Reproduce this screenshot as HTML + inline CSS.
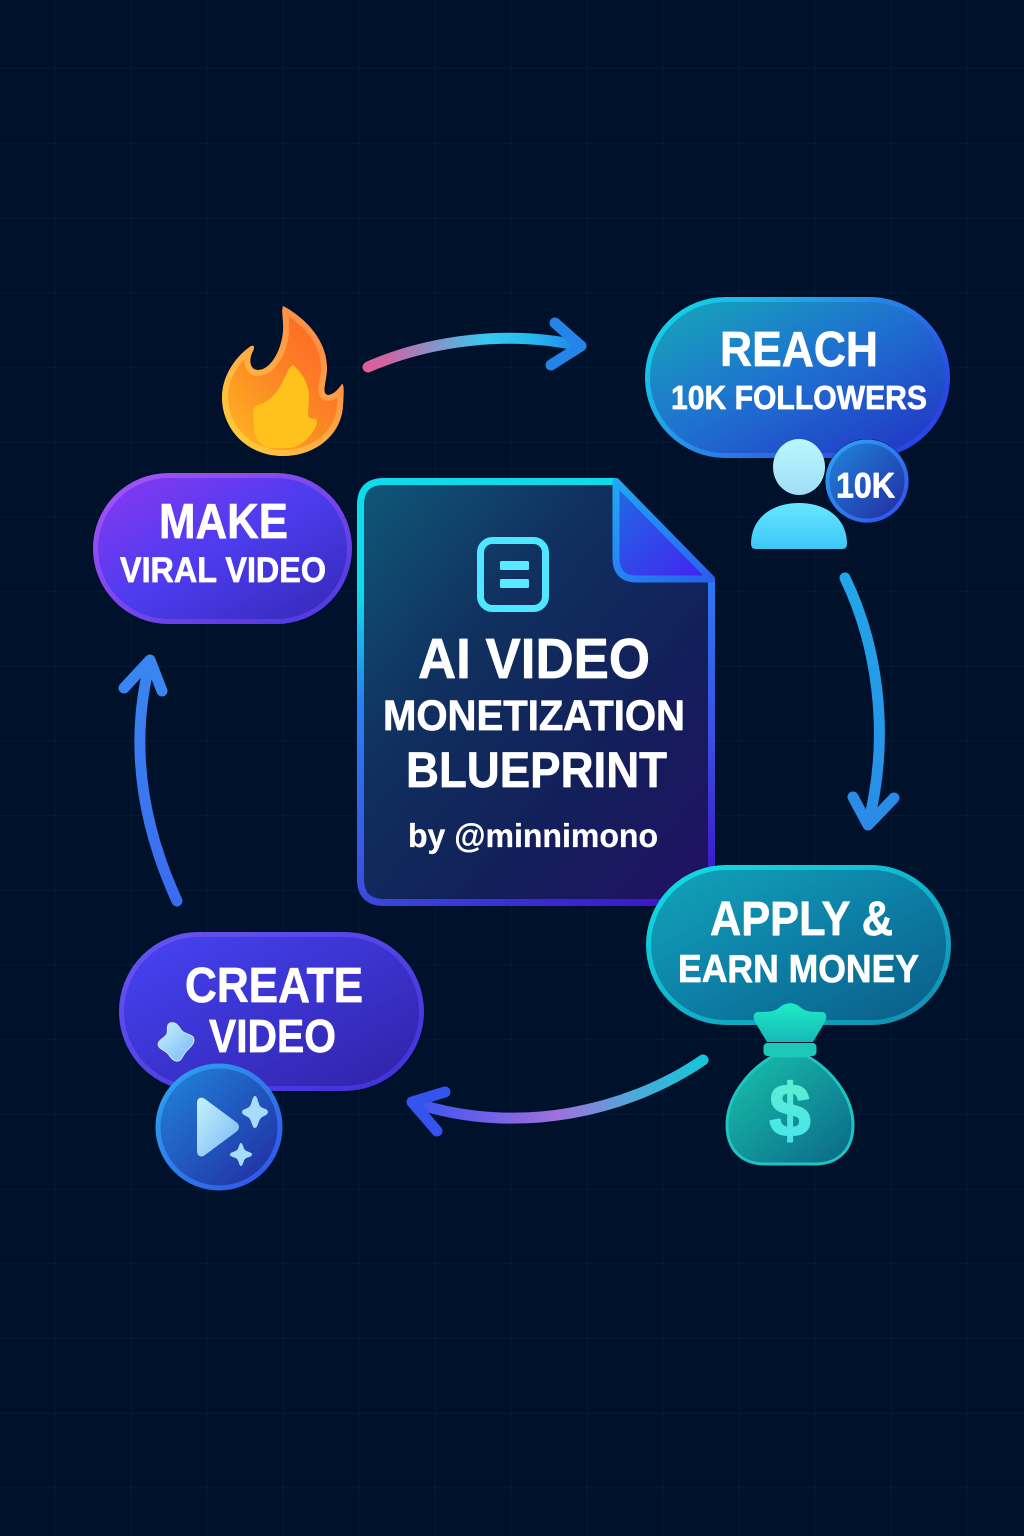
<!DOCTYPE html>
<html lang="en">
<head>
<meta charset="utf-8">
<title>AI Video Monetization Blueprint</title>
<style>
html,body{margin:0;padding:0;background:#00112b;width:1024px;height:1536px;overflow:hidden}
svg{display:block}
text{font-family:"Liberation Sans",sans-serif;font-weight:700;fill:#fff;stroke:#fff;stroke-width:.7;stroke-linejoin:round}
</style>
</head>
<body>
<svg xmlns="http://www.w3.org/2000/svg" width="1024" height="1536" viewBox="0 0 1024 1536">
<defs>
<pattern id="grid" x="-20.5" y="-5.7" width="76" height="74.7" patternUnits="userSpaceOnUse">
<path d="M76 0V74.7M0 74.7H76" fill="none" stroke="#031d3b" stroke-width="1.4"/>
</pattern>
<linearGradient id="rF" x1="0" y1="0" x2="1" y2="1"><stop offset="0" stop-color="#15aab8"/><stop offset=".5" stop-color="#1f6ed0"/><stop offset="1" stop-color="#2230c4"/></linearGradient>
<linearGradient id="rS" x1="0" y1="0" x2="1" y2=".6"><stop offset="0" stop-color="#0fe0e6"/><stop offset=".5" stop-color="#2790ea"/><stop offset="1" stop-color="#2a45e6"/></linearGradient>
<linearGradient id="mF" x1="0" y1="0" x2="1" y2="1"><stop offset="0" stop-color="#8a38f2"/><stop offset=".5" stop-color="#4c3cee"/><stop offset="1" stop-color="#3328b4"/></linearGradient>
<linearGradient id="mS" x1="0" y1="0" x2="1" y2="1"><stop offset="0" stop-color="#a855f5"/><stop offset="1" stop-color="#4a38e0"/></linearGradient>
<linearGradient id="cF" x1="0" y1="0" x2="1" y2="1"><stop offset="0" stop-color="#4644f6"/><stop offset="1" stop-color="#2f22a6"/></linearGradient>
<linearGradient id="cS" x1="0" y1="0" x2="1" y2="1"><stop offset="0" stop-color="#6a54f2"/><stop offset="1" stop-color="#4030d8"/></linearGradient>
<linearGradient id="aF" x1="0" y1="0" x2="1" y2="1"><stop offset="0" stop-color="#12a6ba"/><stop offset=".5" stop-color="#0d7fa6"/><stop offset="1" stop-color="#0a5c86"/></linearGradient>
<linearGradient id="aS" x1="0" y1="0" x2="1" y2="1"><stop offset="0" stop-color="#0fe0e6"/><stop offset="1" stop-color="#118bb0"/></linearGradient>
<linearGradient id="dF" x1="0" y1="0" x2="1" y2="1"><stop offset="0" stop-color="#0f5878"/><stop offset=".35" stop-color="#10305f"/><stop offset=".65" stop-color="#12205a"/><stop offset="1" stop-color="#221064"/></linearGradient>
<linearGradient id="dS" gradientUnits="userSpaceOnUse" x1="420" y1="430" x2="640" y2="950"><stop offset=".22" stop-color="#0fdcea"/><stop offset=".4" stop-color="#2a80f2"/><stop offset=".7" stop-color="#3a50e0"/><stop offset=".95" stop-color="#3a14c8"/></linearGradient>
<linearGradient id="fold" x1="0" y1="0" x2="1" y2="1"><stop offset="0" stop-color="#1f6ce4"/><stop offset="1" stop-color="#4420f0"/></linearGradient>
<linearGradient id="foldS" x1="0" y1="0" x2="1" y2="1"><stop offset="0" stop-color="#20a8f5"/><stop offset="1" stop-color="#2a60ee"/></linearGradient>
<linearGradient id="fl" x1=".85" y1=".15" x2=".15" y2=".9"><stop offset="0" stop-color="#ff6428"/><stop offset=".55" stop-color="#fb8a24"/><stop offset="1" stop-color="#ffb420"/></linearGradient>
<linearGradient id="flS" x1=".85" y1=".15" x2=".15" y2=".9"><stop offset="0" stop-color="#ff8a48"/><stop offset="1" stop-color="#ffc83c"/></linearGradient>
<linearGradient id="a1" gradientUnits="userSpaceOnUse" x1="368" y1="0" x2="583" y2="0"><stop offset="0" stop-color="#dc5f98"/><stop offset=".12" stop-color="#c56aa8"/><stop offset=".55" stop-color="#38c8f0"/><stop offset=".75" stop-color="#26baf0"/><stop offset="1" stop-color="#2480e8"/></linearGradient>
<linearGradient id="a2" gradientUnits="userSpaceOnUse" x1="0" y1="578" x2="0" y2="825"><stop offset="0" stop-color="#22a6e8"/><stop offset="1" stop-color="#2a8ce8"/></linearGradient>
<linearGradient id="a3" gradientUnits="userSpaceOnUse" x1="705" y1="0" x2="408" y2="0"><stop offset="0" stop-color="#14c6dc"/><stop offset=".25" stop-color="#50a8d8"/><stop offset=".5" stop-color="#a070dc"/><stop offset=".75" stop-color="#6c60e8"/><stop offset="1" stop-color="#3454f0"/></linearGradient>
<linearGradient id="a4" gradientUnits="userSpaceOnUse" x1="0" y1="901" x2="0" y2="660"><stop offset="0" stop-color="#3a6cf0"/><stop offset="1" stop-color="#3a86f0"/></linearGradient>
<linearGradient id="hd" x1="0" y1="0" x2="0" y2="1"><stop offset="0" stop-color="#b8f8ff"/><stop offset="1" stop-color="#a0def6"/></linearGradient>
<linearGradient id="bd" x1="0" y1="0" x2="0" y2="1"><stop offset="0" stop-color="#68e6ff"/><stop offset="1" stop-color="#3cc8f6"/></linearGradient>
<linearGradient id="bF" x1="0" y1="0" x2="1" y2="1"><stop offset="0" stop-color="#2088dc"/><stop offset="1" stop-color="#2228a0"/></linearGradient>
<linearGradient id="bS" x1="0" y1="0" x2="1" y2="1"><stop offset="0" stop-color="#2ca8f0"/><stop offset="1" stop-color="#3050e8"/></linearGradient>
<linearGradient id="pl" x1="0" y1="0" x2="1" y2="1"><stop offset="0" stop-color="#c4f2ff"/><stop offset="1" stop-color="#78b8f2"/></linearGradient>
<linearGradient id="nk" x1="0" y1="0" x2="0" y2="1"><stop offset="0" stop-color="#1cecc8"/><stop offset="1" stop-color="#18b8b8"/></linearGradient>
<linearGradient id="bg" x1="0" y1="0" x2="1" y2="1"><stop offset="0" stop-color="#18c4ac"/><stop offset="1" stop-color="#0b6688"/></linearGradient>
<linearGradient id="dl" x1="0" y1="0" x2="0" y2="1"><stop offset="0" stop-color="#62f0cc"/><stop offset="1" stop-color="#44e2f0"/></linearGradient>
<clipPath id="flc"><path d="M283 306C302 316 327 338 327 368C327 378 323 388 325 393C328 398 336 393 342 384C344 384 344 392 343 405C342 434 316 456 283 456C248 456 222 430 222 397C222 376 236 356 251 346C254 345 255 347 253 351C248 360 250 370 258 370C270 370 281 352 283 332C284 320 281 312 283 306Z"/></clipPath>
</defs>

<rect width="1024" height="1536" fill="#00112b"/>
<rect width="1024" height="1536" fill="url(#grid)"/>

<!-- Document -->
<path d="M384 481.500H616L711.500 579V902.500H384Q360.500 902.500 360.500 879V505Q360.500 481.500 384 481.500Z" fill="url(#dF)" stroke="url(#dS)" stroke-width="7" stroke-linejoin="round"/>
<path d="M616 481.500V558Q616 579 637 579H711.500Z" fill="url(#fold)" stroke="url(#foldS)" stroke-width="7" stroke-linejoin="round"/>
<rect x="480.500" y="540.500" width="65" height="68" rx="12" fill="none" stroke="#4fe6ff" stroke-width="7"/>
<rect x="500" y="561" width="29" height="9" rx="1.500" fill="#5aeaff"/>
<rect x="500" y="579" width="29" height="9" rx="1.500" fill="#5aeaff"/>
<text x="418" y="678" font-size="57" textLength="232" lengthAdjust="spacingAndGlyphs">AI VIDEO</text>
<text x="383" y="730" font-size="43" textLength="302" lengthAdjust="spacingAndGlyphs">MONETIZATION</text>
<text x="406" y="787" font-size="50" textLength="261" lengthAdjust="spacingAndGlyphs">BLUEPRINT</text>
<text x="408" y="847" font-size="33" textLength="250" lengthAdjust="spacingAndGlyphs" style="stroke-width:.3">by @minnimono</text>

<!-- Arrows -->
<g fill="none" stroke-linecap="round" stroke-linejoin="round" stroke-width="11">
<path d="M368 367C430 340 510 330 580 346" stroke="url(#a1)"/>
<path d="M555 323L581 346L551 365" stroke="#2484e8"/>
<path d="M845 578C875 640 892 730 868 824" stroke="url(#a2)"/>
<path d="M853 797L868 825L894 798" stroke="#2a8ce8"/>
<path d="M703 1060C630 1110 520 1137 415 1103" stroke="url(#a3)"/>
<path d="M445 1092L412 1102L437 1131" stroke="#3454f0"/>
<path d="M177 901C140 820 130 740 150 662" stroke="url(#a4)"/>
<path d="M124 688L150 660L162 691" stroke="#3a86f0"/>
</g>

<!-- Flame -->
<g clip-path="url(#flc)">
<rect x="215" y="300" width="135" height="160" fill="url(#fl)"/>
<path d="M283 306C302 316 327 338 327 368C327 378 323 388 325 393C328 398 336 393 342 384C344 384 344 392 343 405C342 434 316 456 283 456C248 456 222 430 222 397C222 376 236 356 251 346C254 345 255 347 253 351C248 360 250 370 258 370C270 370 281 352 283 332C284 320 281 312 283 306Z" fill="none" stroke="url(#flS)" stroke-width="12"/>
</g>
<path d="M293 365C301 372 308 382 309 395C309 405 307 414 309 418L316 419C318 422 316 428 312 433C306 441 298 447 290 448L270 448C260 446 254 438 254 428L253 413C253 408 256 405 259 405C267 402 275 396 281 385C286 376 289 366 293 365Z" fill="#ffc21c"/>

<!-- Reach pill -->
<rect x="647.500" y="299.500" width="300" height="156" rx="78" fill="url(#rF)" stroke="url(#rS)" stroke-width="5"/>
<text x="720" y="366" font-size="49" textLength="158" lengthAdjust="spacingAndGlyphs">REACH</text>
<text x="671" y="409" font-size="33" textLength="256" lengthAdjust="spacingAndGlyphs">10K FOLLOWERS</text>
<ellipse cx="799" cy="467" rx="26" ry="28" fill="url(#hd)"/>
<path d="M751 544C751 518 772 503 799 503C826 503 847 518 847 544Q847 549 842 549H756Q751 549 751 544Z" fill="url(#bd)"/>
<circle cx="867" cy="481" r="42" fill="#0a1c70"/>
<circle cx="867" cy="481" r="39.500" fill="url(#bF)" stroke="url(#bS)" stroke-width="4"/>
<text x="836" y="497.500" font-size="35" textLength="59" lengthAdjust="spacingAndGlyphs">10K</text>

<!-- Make pill -->
<rect x="95.500" y="475.500" width="254" height="146" rx="73" fill="url(#mF)" stroke="url(#mS)" stroke-width="5"/>
<text x="159" y="538" font-size="49" textLength="129" lengthAdjust="spacingAndGlyphs">MAKE</text>
<text x="120" y="582" font-size="35" textLength="206" lengthAdjust="spacingAndGlyphs">VIRAL VIDEO</text>

<!-- Create pill -->
<rect x="121.500" y="934.500" width="300" height="154" rx="77" fill="url(#cF)" stroke="url(#cS)" stroke-width="5"/>
<text x="185" y="1002" font-size="49" textLength="178" lengthAdjust="spacingAndGlyphs">CREATE</text>
<text x="209" y="1052" font-size="46" textLength="127" lengthAdjust="spacingAndGlyphs">VIDEO</text>
<path d="M170 1023C176 1021 179 1027 182 1031C186 1035 194 1034 194 1040C194 1046 187 1049 185 1053C182 1057 181 1062 176 1061C171 1060 170 1055 166 1052C162 1049 158 1048 158 1044C159 1039 165 1038 167 1034C168 1030 166 1025 170 1023Z" fill="url(#pl)" stroke="#cde8ff" stroke-width="1"/>
<circle cx="219" cy="1127" r="61" fill="url(#bF)" stroke="url(#bS)" stroke-width="5"/>
<path d="M197 1103C197 1098 201 1096 205 1099L236 1122C240 1125 240 1129 236 1132L205 1155C201 1158 197 1156 197 1151Z" fill="url(#pl)"/>
<path d="M255 1096C258 1096 258 1105 261 1107C264 1109 268 1109 268 1112C268 1115 263 1116 261 1118C258 1121 258 1128 255 1128C252 1128 252 1121 249 1118C247 1116 242 1115 242 1112C242 1109 247 1109 249 1107C252 1105 252 1096 255 1096Z" fill="#a8dcfa"/>
<path d="M241 1143C243 1143 243 1148 245 1150C247 1152 252 1152 252 1154.500C252 1157 247 1157 245 1159C243 1161 243 1166 241 1166C239 1166 239 1161 237 1159C235 1157 230 1157 230 1154.500C230 1152 235 1152 237 1150C239 1148 239 1143 241 1143Z" fill="#a8dcfa"/>

<!-- Apply pill -->
<rect x="648.500" y="867.500" width="300" height="155" rx="77.500" fill="url(#aF)" stroke="url(#aS)" stroke-width="5"/>
<text x="710" y="935" font-size="48" textLength="183" lengthAdjust="spacingAndGlyphs">APPLY &amp;</text>
<text x="678" y="982" font-size="39" textLength="241" lengthAdjust="spacingAndGlyphs">EARN MONEY</text>

<!-- Money bag -->
<path d="M773 1056H807C833 1071 853 1098 853 1125C853 1150 838 1164 815 1164H765C742 1164 727 1150 727 1125C727 1098 747 1071 773 1056Z" fill="url(#bg)" stroke="#1fc4c0" stroke-width="3"/>
<path d="M758 1012C767 1012 775 1012 780 1007C786 1002 794 1002 800 1007C805 1012 813 1012 822 1012C827 1012 827 1018 825 1022L813 1042H767L755 1022C753 1018 753 1012 758 1012Z" fill="url(#nk)"/>
<rect x="763.500" y="1043" width="53" height="13" rx="4" fill="#1cc8b8"/>
<text x="790" y="1136" font-size="74" text-anchor="middle" style="fill:url(#dl);stroke:url(#dl);stroke-width:2">$</text>
</svg>
</body>
</html>
